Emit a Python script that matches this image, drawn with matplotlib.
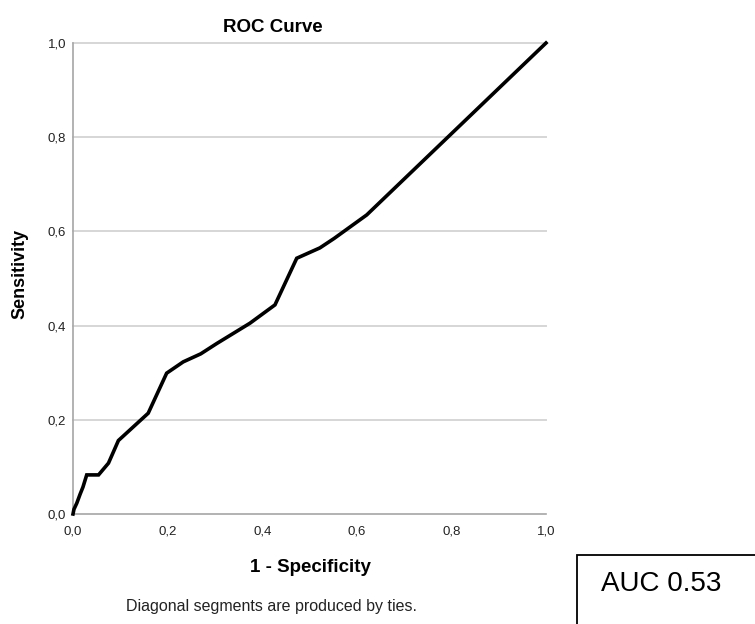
import numpy as np
from matplotlib import pyplot as plt
from matplotlib.patches import Rectangle

# ROC curve points
fpr = [0.0, 0.002, 0.008, 0.015, 0.021, 0.029, 0.054, 0.075, 0.096, 0.159,
       0.198, 0.233, 0.270, 0.304, 0.374, 0.427, 0.473, 0.522, 0.552, 0.621, 1.0]
tpr = [0.0, 0.010, 0.023, 0.042, 0.057, 0.083, 0.083, 0.108, 0.156, 0.214,
       0.299, 0.323, 0.340, 0.362, 0.405, 0.444, 0.543, 0.565, 0.585, 0.635, 1.0]
ticks = [0.0, 0.2, 0.4, 0.6, 0.8, 1.0]
tick_labels = ['0,0', '0,2', '0,4', '0,6', '0,8', '1,0']
auc_text = 'AUC 0.53'

plt.rcParams['font.family'] = ['Liberation Sans', 'DejaVu Sans']

W, H = 755, 624
fig = plt.figure(figsize=(W / 100, H / 100), dpi=100)
ax = fig.add_axes([73 / W, 1 - 514 / H, 473 / W, 471 / H])

ax.plot(fpr, tpr, color='black', lw=2.6, clip_on=False, zorder=3,
        solid_joinstyle='miter')
ax.set_xlim(0, 1)
ax.set_ylim(0, 1)
ax.set_xticks(ticks)
ax.set_xticklabels(tick_labels)
ax.set_yticks(ticks)
ax.set_yticklabels(tick_labels)
ax.tick_params(length=0, labelsize=9.5, colors='#222222')
ax.tick_params(axis='x', pad=8.5)
ax.tick_params(axis='y', pad=5)

# horizontal grid only
for t in ticks[1:]:
    ax.axhline(t, color='#d6d6d6', lw=1.4, zorder=1, clip_on=False)

for s in ['top', 'right']:
    ax.spines[s].set_visible(False)
for s in ['left', 'bottom']:
    ax.spines[s].set_color('#a6a6a6')
    ax.spines[s].set_linewidth(1.2)

fig.text(273 / W, 1 - 27 / H, 'ROC Curve', ha='center', va='center',
         fontsize=13.5, fontweight='bold')
fig.text(310 / W, 1 - 568 / H, '1 - Specificity', ha='center', va='center',
         fontsize=13.5, fontweight='bold')
fig.text(20 / W, 1 - 274 / H, 'Sensitivity', ha='center', va='center',
         rotation=90, fontsize=13, fontweight='bold')
fig.text(272 / W, 1 - 606 / H, 'Diagonal segments are produced by ties.',
         ha='center', va='center', fontsize=11.5, color='#222222')

# AUC box in the lower right corner
fig.add_artist(Rectangle((577 / W, -0.1), 0.5, 0.1 + (624 - 555) / H,
                         transform=fig.transFigure, fill=False,
                         edgecolor='black', lw=1.3))
fig.text(661 / W, 1 - 584 / H, auc_text, ha='center', va='center',
         fontsize=20)

fig.savefig('out.png', dpi=100)
